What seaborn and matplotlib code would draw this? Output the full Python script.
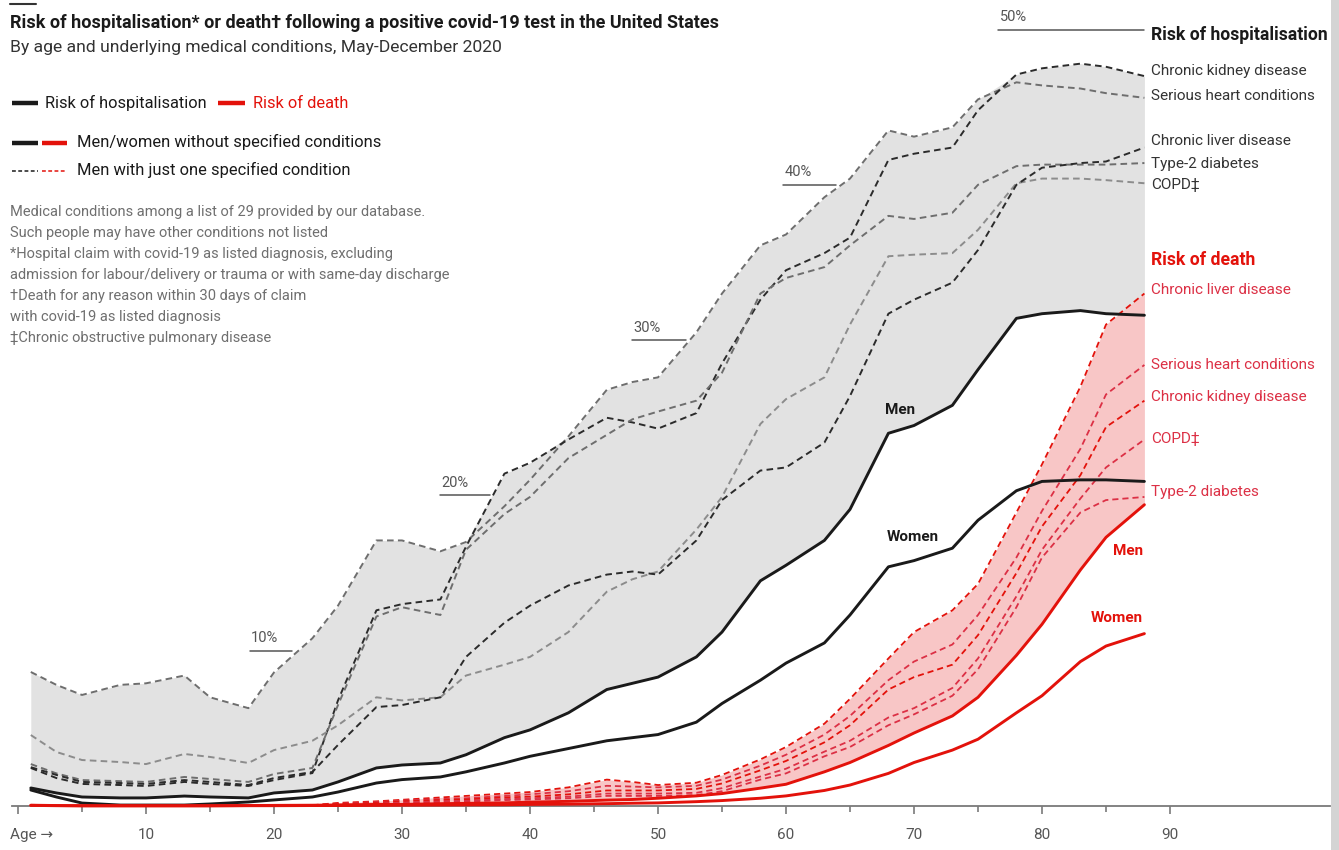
import numpy as np
import matplotlib
matplotlib.use("Agg")
import matplotlib.pyplot as plt
from matplotlib.patches import Rectangle
import seaborn as sns

# --- data (percent of positive tests) ---
AGES = [1, 3, 5, 8, 10, 13, 15, 18, 20, 23, 25, 28, 30, 33, 35, 38, 40, 43,
        46, 48, 50, 53, 55, 58, 60, 63, 65, 68, 70, 73, 75, 78, 80, 83, 85, 88]

HOSP_MEN = [1.16, 0.84, 0.58, 0.52, 0.52, 0.64, 0.58, 0.52, 0.84, 1.03, 1.55, 2.45,
            2.64, 2.77, 3.3, 4.4, 4.9, 6.0, 7.5, 7.9, 8.3, 9.6, 11.2, 14.5, 15.5, 17.1,
            19.1, 24.0, 24.5, 25.8, 28.1, 31.4, 31.7, 31.9, 31.7, 31.6]
HOSP_WOMEN = [1.03, 0.58, 0.19, 0.06, 0.06, 0.06, 0.13, 0.26, 0.39, 0.58, 0.9, 1.48,
              1.7, 1.87, 2.2, 2.77, 3.2, 3.7, 4.2, 4.4, 4.6, 5.4, 6.6, 8.1, 9.2, 10.5,
              12.3, 15.4, 15.8, 16.6, 18.4, 20.3, 20.9, 21.0, 21.0, 20.9]
HOSP_HEART = [8.63, 7.8, 7.15, 7.8, 7.9, 8.4, 7.0, 6.3, 8.6, 10.8, 12.9, 17.1,
              17.1, 16.4, 17.0, 19.3, 21.0, 23.8, 26.8, 27.3, 27.6, 30.5, 33.0, 36.1,
              36.8, 39.2, 40.4, 43.5, 43.1, 43.7, 45.5, 46.6, 46.4, 46.2, 45.9, 45.6]
HOSP_KIDNEY = [2.45, 1.80, 1.42, 1.35, 1.29, 1.55, 1.42, 1.29, 1.67, 2.12, 6.8, 12.6,
               13.0, 13.3, 16.7, 21.4, 22.1, 23.6, 25.0, 24.7, 24.3, 25.3, 28.5, 32.6,
               34.5, 35.6, 36.6, 41.6, 42.0, 42.4, 44.8, 47.1, 47.5, 47.8, 47.6, 47.0]
HOSP_DIABETES = [2.7, 2.1, 1.67, 1.6, 1.55, 1.87, 1.74, 1.55, 2.06, 2.45, 6.5, 12.2,
                 12.8, 12.3, 16.5, 18.8, 19.9, 22.4, 23.9, 24.9, 25.4, 26.1, 27.9, 33.0,
                 34.0, 34.7, 36.1, 38.0, 37.8, 38.2, 40.0, 41.2, 41.3, 41.3, 41.3, 41.4]
HOSP_COPD = [4.57, 3.48, 2.96, 2.83, 2.70, 3.35, 3.16, 2.77, 3.6, 4.2, 5.2, 7.0,
             6.8, 7.0, 8.4, 9.1, 9.6, 11.2, 13.8, 14.6, 15.1, 17.8, 19.9, 24.6,
             26.2, 27.6, 31.0, 35.4, 35.5, 35.6, 37.1, 40.1, 40.4, 40.4, 40.3, 40.1]
HOSP_LIVER = [2.5, 2.0, 1.55, 1.48, 1.42, 1.67, 1.55, 1.35, 1.80, 2.19, 3.93, 6.37,
              6.50, 7.0, 9.6, 11.8, 12.9, 14.2, 14.9, 15.1, 14.9, 17.1, 19.7, 21.6,
              21.8, 23.4, 26.4, 31.7, 32.6, 33.7, 35.8, 40.0, 41.1, 41.4, 41.5, 42.4]

DEATH_MEN = [0.05, 0.03, 0.02, 0.02, 0.02, 0.02, 0.02, 0.03, 0.04, 0.05, 0.07, 0.1,
             0.1, 0.15, 0.17, 0.2, 0.25, 0.3, 0.38, 0.42, 0.5, 0.65, 0.8, 1.15, 1.4,
             2.2, 2.8, 3.9, 4.7, 5.8, 7.0, 9.7, 11.7, 15.2, 17.3, 19.4]
DEATH_WOMEN = [0.04, 0.02, 0.01, 0.01, 0.01, 0.01, 0.01, 0.02, 0.02, 0.03, 0.03, 0.04,
               0.05, 0.06, 0.07, 0.08, 0.1, 0.12, 0.15, 0.18, 0.2, 0.28, 0.35, 0.5,
               0.65, 1.0, 1.35, 2.1, 2.8, 3.6, 4.3, 6.0, 7.1, 9.3, 10.3, 11.1]

# one-condition death curves start at age 23
DEATH_AGES = AGES[9:]
DEATH_LIVER = [0.05, 0.2, 0.3, 0.4, 0.55, 0.65, 0.8, 0.9, 1.2, 1.7, 1.55, 1.35, 1.5,
               2.0, 3.0, 3.8, 5.3, 6.9, 9.5, 11.2, 12.6, 14.3, 18.9, 22.0, 27.0, 31.0, 33.0]
DEATH_HEART = [0.05, 0.15, 0.25, 0.35, 0.45, 0.5, 0.65, 0.75, 0.95, 1.3, 1.25, 1.2, 1.3,
               1.7, 2.6, 3.3, 4.6, 5.8, 8.1, 9.3, 10.4, 12.3, 16.0, 19.0, 23.0, 26.5, 28.4]
DEATH_KIDNEY = [0.04, 0.12, 0.2, 0.3, 0.38, 0.42, 0.55, 0.6, 0.75, 1.0, 1.0, 1.0, 1.1,
                1.45, 2.3, 2.9, 4.1, 5.2, 7.5, 8.3, 9.1, 11.0, 15.0, 18.0, 21.3, 24.4, 26.1]
DEATH_COPD = [0.03, 0.08, 0.15, 0.22, 0.3, 0.33, 0.45, 0.5, 0.6, 0.8, 0.8, 0.8, 0.85,
              1.15, 1.9, 2.4, 3.5, 4.2, 5.7, 6.3, 7.6, 9.5, 13.5, 16.5, 19.8, 21.8, 23.6]
DEATH_DIABETES = [0.03, 0.06, 0.12, 0.18, 0.25, 0.28, 0.38, 0.42, 0.5, 0.65, 0.65, 0.65,
                  0.7, 0.95, 1.7, 2.1, 3.2, 3.8, 5.2, 5.9, 7.1, 8.8, 12.8, 16.0, 18.9,
                  19.7, 19.9]

PCT_MARKS = [10, 20, 30, 40, 50]
PCT_SPANS = [(18.1, 21.4), (33.0, 36.9), (48.0, 52.2), (59.8, 63.9), (76.6, 88.0)]

W, H = 1339, 850
RED = "#e3120b"
DRED = "#dc3045"
INK = "#1a1a1a"


def main():
    sns.set_theme(style="white")
    plt.rcParams["font.family"] = ["Liberation Sans Narrow", "Roboto", "DejaVu Sans"]

    fig = plt.figure(figsize=(W / 100, H / 100), dpi=100)
    fig.patch.set_facecolor("white")

    # main data axes: 12.8 px per year, 15.53 px per percentage point
    ax = fig.add_axes([11.6 / W, 44 / H, (1330 - 11.6) / W, 806 / H])
    ax.set_xlim(-0.5, 102.5)
    ax.set_ylim(0, 806 / 15.53)
    ax.set_facecolor("none")

    # shaded ranges
    hosp_top = np.max(np.vstack([HOSP_HEART, HOSP_KIDNEY, HOSP_DIABETES,
                                 HOSP_COPD, HOSP_LIVER]), axis=0)
    ax.fill_between(AGES, HOSP_MEN, hosp_top, color="#e2e2e2", lw=0, zorder=1)
    death_top = np.max(np.vstack([DEATH_LIVER, DEATH_HEART, DEATH_KIDNEY,
                                  DEATH_COPD, DEATH_DIABETES]), axis=0)
    ax.fill_between(DEATH_AGES, DEATH_MEN[9:], death_top, color="#f8c6c6", lw=0, zorder=1)

    dash = (0, (3.4, 2.2))
    for vals, col in [(HOSP_HEART, "#6e6e6e"), (HOSP_KIDNEY, "#2b2b2b"),
                      (HOSP_DIABETES, "#6e6e6e"), (HOSP_COPD, "#8c8c8c"),
                      (HOSP_LIVER, "#2b2b2b")]:
        sns.lineplot(x=AGES, y=vals, ax=ax, color=col, lw=1.4, linestyle=dash, zorder=3)

    for vals, col in [(DEATH_LIVER, RED), (DEATH_HEART, DRED), (DEATH_KIDNEY, RED),
                      (DEATH_COPD, DRED), (DEATH_DIABETES, DRED)]:
        sns.lineplot(x=DEATH_AGES, y=vals, ax=ax, color=col, lw=1.3, linestyle=dash, zorder=3)

    sns.lineplot(x=AGES, y=HOSP_MEN, ax=ax, color=INK, lw=2.1, zorder=4)
    sns.lineplot(x=AGES, y=HOSP_WOMEN, ax=ax, color=INK, lw=2.1, zorder=4)
    sns.lineplot(x=AGES, y=DEATH_MEN, ax=ax, color=RED, lw=2.1, zorder=5, clip_on=False)
    sns.lineplot(x=AGES, y=DEATH_WOMEN, ax=ax, color=RED, lw=2.1, zorder=5, clip_on=False)

    # percentage markers
    for pct, (a0, a1) in zip(PCT_MARKS, PCT_SPANS):
        ax.plot([a0, a1], [pct, pct], color="#555555", lw=1.1, zorder=2)
        ax.text(a0 + 0.1, pct + 0.35, f"{pct}%", fontsize=10.5, color="#555555",
                ha="left", va="bottom")

    # axis styling
    for side in ["top", "right", "left"]:
        ax.spines[side].set_visible(False)
    ax.spines["bottom"].set_color("#7a7a7a")
    ax.spines["bottom"].set_linewidth(1.3)
    ax.set_yticks([])
    ax.set_xticks(range(0, 91, 10))
    ax.set_xticklabels([""] + [str(a) for a in range(10, 91, 10)])
    ax.set_xticks(range(5, 90, 10), minor=True)
    ax.tick_params(axis="x", which="major", direction="out", length=6, width=1.2,
                   color="#7a7a7a", labelsize=11, labelcolor="#555555", pad=10, bottom=True)
    ax.tick_params(axis="x", which="minor", direction="out", length=4, width=1.2,
                   color="#7a7a7a", bottom=True)
    ax.set_xlabel("")
    ax.set_ylabel("")
    ax.grid(False)

    # overlay in pixel coordinates for text
    ov = fig.add_axes([0, 0, 1, 1])
    ov.set_xlim(0, W)
    ov.set_ylim(H, 0)
    ov.axis("off")
    ov.set_facecolor("none")

    ov.add_patch(Rectangle((1331, 0), 8, H, color="#d4d4d4", lw=0))
    ov.plot([10, 36], [4, 4], color="#333333", lw=1.5)

    ov.text(10, 23, "Risk of hospitalisation* or death\u2020 following a positive covid-19 test in the United States",
            fontsize=13, fontweight="bold", color=INK, va="center", ha="left")
    ov.text(10, 47, "By age and underlying medical conditions, May-December 2020",
            fontsize=12.6, color="#333333", va="center", ha="left")

    # legend
    ov.plot([12, 38], [103, 103], color=INK, lw=3.2, solid_capstyle="butt")
    ov.text(45, 103, "Risk of hospitalisation", fontsize=11.8, color=INK, va="center")
    ov.plot([218, 245], [103, 103], color=RED, lw=3.2, solid_capstyle="butt")
    ov.text(253, 103, "Risk of death", fontsize=11.8, color=RED, va="center")
    ov.plot([12, 38], [143, 143], color=INK, lw=3.2, solid_capstyle="butt")
    ov.plot([42, 67], [143, 143], color=RED, lw=3.2, solid_capstyle="butt")
    ov.text(77, 142, "Men/women without specified conditions", fontsize=11.9, color=INK, va="center")
    ov.plot([12, 38], [171, 171], color=INK, lw=1.1, linestyle=(0, (2.5, 1.6)))
    ov.plot([42, 67], [171, 171], color=RED, lw=1.1, linestyle=(0, (2.5, 1.6)))
    ov.text(77, 170, "Men with just one specified condition", fontsize=11.9, color=INK, va="center")

    notes = [
        "Medical conditions among a list of 29 provided by our database.",
        "Such people may have other conditions not listed",
        "*Hospital claim with covid-19 as listed diagnosis, excluding",
        "admission for labour/delivery or trauma or with same-day discharge",
        "\u2020Death for any reason within 30 days of claim",
        "with covid-19 as listed diagnosis",
        "\u2021Chronic obstructive pulmonary disease",
    ]
    for i, line in enumerate(notes):
        ov.text(10, 212 + 21 * i, line, fontsize=10.5, color="#6f6f6f", va="center")

    # right-hand labels
    ov.text(1151, 35, "Risk of hospitalisation", fontsize=12.7, fontweight="bold",
            color=INK, va="center")
    for y, lab in [(71, "Chronic kidney disease"), (96, "Serious heart conditions"),
                   (141, "Chronic liver disease"), (164, "Type-2 diabetes"),
                   (185, "COPD\u2021")]:
        ov.text(1151, y, lab, fontsize=11, color="#333333", va="center")
    ov.text(1151, 260, "Risk of death", fontsize=12.7, fontweight="bold", color=RED, va="center")
    for y, lab in [(290, "Chronic liver disease"), (365, "Serious heart conditions"),
                   (397, "Chronic kidney disease"), (439, "COPD\u2021"),
                   (492, "Type-2 diabetes")]:
        ov.text(1151, y, lab, fontsize=11, color=DRED, va="center")

    # inline series labels
    ov.text(900, 410, "Men", fontsize=11, fontweight="bold", color=INK, ha="center", va="center")
    ov.text(913, 537, "Women", fontsize=11, fontweight="bold", color=INK, ha="center", va="center")
    ov.text(1143, 551, "Men", fontsize=11, fontweight="bold", color=RED, ha="right", va="center")
    ov.text(1143, 618, "Women", fontsize=11, fontweight="bold", color=RED, ha="right", va="center")

    ov.text(10, 835, "Age \u2192", fontsize=11, color="#555555", va="center",
            family=["Liberation Sans Narrow", "Roboto", "DejaVu Sans"])

    fig.savefig("out.png", dpi=100)
    plt.close(fig)


if __name__ == "__main__":
    main()
